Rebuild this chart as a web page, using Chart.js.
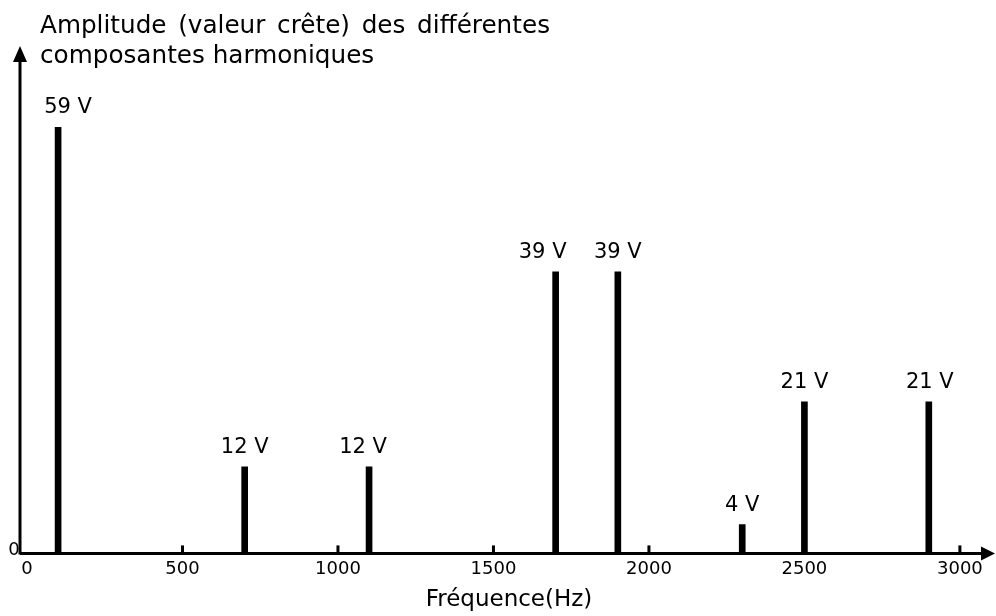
<!DOCTYPE html>
<html>
<head>
  <meta charset="utf-8">
  <title>Spectre harmonique</title>
  <style>
    body { margin: 0; padding: 0; background: #fff; }
    #wrap { width: 996px; height: 616px; }
  </style>
</head>
<body>
  <div id="wrap"><canvas id="spectre" width="996" height="616"></canvas></div>

  <script src="https://cdn.jsdelivr.net/npm/chart.js"></script>
  <script>
    // Données
    var frequences = [100, 700, 1100, 1700, 1900, 2300, 2500, 2900];
    var amplitudes = [59, 12, 12, 39, 39, 4, 21, 21];
    var etiquettes = ['59 V', '12 V', '12 V', '39 V', '39 V', '4 V', '21 V', '21 V'];
    var xTicks = [0, 500, 1000, 1500, 2000, 2500, 3000];
    var titreY = ['Amplitude (valeur crête) des différentes', 'composantes harmoniques'];
    var titreX = 'Fréquence(Hz)';

    var police = '"DejaVu Sans", Verdana, sans-serif';
    // décalage horizontal des étiquettes (px)
    var decalages = [10, 0, -6, -13, 0, 0, 0, 1];

    // axes fléchés, graduations, étiquettes et titre
    var decor = {
      id: 'decor',
      afterDraw: function (chart) {
        var ctx = chart.ctx;
        var area = chart.chartArea;
        var xs = chart.scales.x;
        var x0 = area.left - 7;
        var y0 = area.bottom;
        ctx.save();
        ctx.strokeStyle = '#000';
        ctx.fillStyle = '#000';
        ctx.lineWidth = 3;

        // axe horizontal
        ctx.beginPath();
        ctx.moveTo(x0, y0);
        ctx.lineTo(984, y0);
        ctx.stroke();
        ctx.beginPath();
        ctx.moveTo(995, y0);
        ctx.lineTo(981, y0 - 7);
        ctx.lineTo(981, y0 + 7);
        ctx.closePath();
        ctx.fill();

        // axe vertical
        ctx.beginPath();
        ctx.moveTo(x0, y0 + 1);
        ctx.lineTo(x0, 58);
        ctx.stroke();
        ctx.beginPath();
        ctx.moveTo(x0, 46);
        ctx.lineTo(x0 - 7, 62);
        ctx.lineTo(x0 + 7, 62);
        ctx.closePath();
        ctx.fill();

        // petites graduations
        xTicks.forEach(function (v) {
          if (v === 0) return;
          var px = xs.getPixelForValue(v);
          ctx.beginPath();
          ctx.moveTo(px, y0);
          ctx.lineTo(px, y0 - 8);
          ctx.stroke();
        });

        // zéro de l'axe vertical
        ctx.font = '18px ' + police;
        ctx.textAlign = 'center';
        ctx.textBaseline = 'middle';
        ctx.fillText('0', 14, y0 - 3);

        // valeurs au-dessus des raies
        ctx.font = '21px ' + police;
        ctx.textBaseline = 'alphabetic';
        chart.getDatasetMeta(0).data.forEach(function (bar, i) {
          ctx.fillText(etiquettes[i], bar.x + decalages[i], bar.y - 14);
        });

        // titre de l'axe vertical (première ligne justifiée)
        ctx.font = '24.7px ' + police;
        ctx.textAlign = 'left';
        var mots = titreY[0].split(' ');
        var largeur = 510;
        var total = 0;
        mots.forEach(function (m) { total += ctx.measureText(m).width; });
        var gap = (largeur - total) / (mots.length - 1);
        var px = 40;
        mots.forEach(function (m) {
          ctx.fillText(m, px, 33);
          px += ctx.measureText(m).width + gap;
        });
        ctx.fillText(titreY[1], 40, 63);
        ctx.restore();
      }
    };

    var grafik = document.getElementById('spectre').getContext('2d');
    var spectre = new Chart(grafik, {
      type: 'bar',
      data: {
        datasets: [{
          data: frequences.map(function (f, i) { return { x: f, y: amplitudes[i] }; }),
          backgroundColor: '#000',
          borderWidth: 0,
          barThickness: 6
        }]
      },
      options: {
        responsive: false,
        animation: false,
        events: [],
        layout: { padding: { left: 27, right: 5, top: 48, bottom: 2 } },
        plugins: {
          legend: { display: false },
          tooltip: { enabled: false }
        },
        scales: {
          x: {
            type: 'linear',
            min: 0,
            max: 3100,
            offset: false,
            grid: { display: false, drawTicks: false, tickLength: 0 },
            border: { display: false },
            afterBuildTicks: function (scale) {
              scale.ticks = xTicks.map(function (v) { return { value: v }; });
            },
            ticks: {
              color: '#000',
              font: { family: police, size: 18, lineHeight: 1 },
              padding: 7,
              maxRotation: 0,
              autoSkip: false,
              callback: function (v) { return String(v); }
            },
            title: {
              display: true,
              text: titreX,
              color: '#000',
              font: { family: police, size: 23 },
              padding: { top: 1, bottom: 0 }
            }
          },
          y: {
            display: false,
            min: 0,
            max: 70
          }
        }
      },
      plugins: [decor]
    });
  </script>
</body>
</html>
